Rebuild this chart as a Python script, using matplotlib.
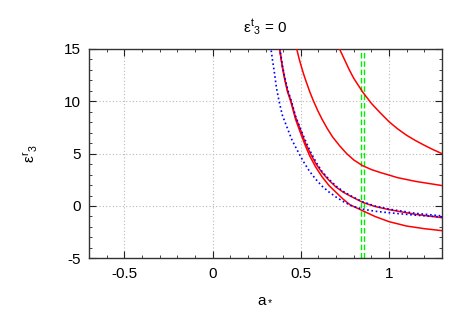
import numpy as np
import matplotlib
matplotlib.use("Agg")
import matplotlib.pyplot as plt
from matplotlib.ticker import MultipleLocator

# values
red1_x = [0.70, 0.725, 0.75, 0.775, 0.80, 0.825, 0.85, 0.875, 0.90, 0.95, 1.00, 1.05, 1.10, 1.15, 1.20, 1.25, 1.30]
red1_y = [15.8, 14.8, 13.9, 13.0, 12.2, 11.55, 10.9, 10.35, 9.8, 8.9, 8.05, 7.35, 6.75, 6.25, 5.8, 5.38, 5.0]

red2_x = [0.465, 0.477, 0.49, 0.50, 0.515, 0.53, 0.55, 0.57, 0.595, 0.62, 0.65, 0.68, 0.72, 0.76, 0.80, 0.85, 0.90, 0.95, 1.05, 1.15, 1.30]
red2_y = [15.8, 15.0, 14.1, 13.5, 12.65, 11.9, 10.95, 10.1, 9.15, 8.3, 7.4, 6.6, 5.75, 5.0, 4.4, 3.85, 3.48, 3.2, 2.7, 2.35, 1.95]

red3_x = [0.37, 0.38, 0.395, 0.41, 0.425, 0.445, 0.47, 0.50, 0.525, 0.555, 0.585, 0.62, 0.66, 0.70, 0.74, 0.78, 0.85, 0.92, 1.00, 1.15, 1.30]
red3_y = [16.2, 15.0, 13.4, 12.1, 11.0, 10.0, 8.5, 7.2, 6.05, 5.0, 4.05, 3.2, 2.45, 1.8, 1.32, 0.95, 0.35, -0.05, -0.35, -0.8, -1.12]

red4_x = [0.37, 0.38, 0.395, 0.41, 0.425, 0.443, 0.47, 0.50, 0.525, 0.55, 0.585, 0.62, 0.66, 0.70, 0.74, 0.78, 0.85, 0.92, 1.00, 1.10, 1.20, 1.30]
red4_y = [16.2, 15.0, 13.3, 12.0, 10.9, 10.0, 8.3, 6.9, 5.8, 4.8, 3.7, 2.8, 1.95, 1.3, 0.65, 0.1, -0.45, -1.0, -1.5, -1.92, -2.17, -2.36]

blue1_x = [0.32, 0.331, 0.34, 0.35, 0.362, 0.377, 0.395, 0.42, 0.45, 0.49, 0.52, 0.55, 0.585, 0.62, 0.66, 0.70, 0.745, 0.79, 0.85, 0.92, 1.00, 1.15, 1.30]
blue1_y = [16.5, 15.0, 13.9, 12.8, 11.3, 10.0, 8.7, 7.6, 6.3, 5.0, 4.1, 3.3, 2.55, 1.9, 1.33, 0.85, 0.38, 0.0, -0.3, -0.5, -0.65, -0.88, -1.05]

blue2_x = [0.37, 0.382, 0.395, 0.41, 0.427, 0.447, 0.47, 0.50, 0.53, 0.56, 0.59, 0.62, 0.66, 0.70, 0.74, 0.78, 0.85, 0.92, 1.00, 1.15, 1.30]
blue2_y = [16.3, 15.0, 13.5, 12.2, 11.05, 10.0, 8.6, 7.3, 6.1, 5.0, 4.1, 3.3, 2.55, 1.9, 1.4, 1.0, 0.4, 0.0, -0.3, -0.7, -0.95]

green_x = [0.84, 0.86]

x_ticks = [-0.5, 0, 0.5, 1]
x_labels = ["-0.5", "0", "0.5", "1"]
y_ticks = [-5, 0, 5, 10, 15]
y_labels = ["-5", "0", "5", "10", "15"]

plt.rcParams['font.family'] = ['Liberation Sans', 'DejaVu Sans']
plt.rcParams['mathtext.fontset'] = 'custom'
plt.rcParams['mathtext.rm'] = 'Liberation Sans'
plt.rcParams['mathtext.it'] = 'Liberation Sans'
plt.rcParams['axes.unicode_minus'] = False

fig = plt.figure(figsize=(4.67, 3.27), dpi=100)
ax = fig.add_axes([89 / 467, 1 - 258.3 / 327, (442 - 89) / 467, (258.3 - 49) / 327])

for x in green_x:
    ax.axvline(x, color='#00ee00', lw=1.0, linestyle=(0, (4, 2)), zorder=2)

for xs, ys in [(red1_x, red1_y), (red2_x, red2_y), (red3_x, red3_y), (red4_x, red4_y)]:
    ax.plot(xs, ys, color='#ff0000', lw=1.1, zorder=3)

for xs, ys in [(blue1_x, blue1_y), (blue2_x, blue2_y)]:
    ax.plot(xs, ys, color='#0000ff', lw=1.2, linestyle=(0, (1, 1.6)), zorder=4)

ax.set_xlim(-0.7, 1.3)
ax.set_ylim(-5, 15)
ax.set_xticks(x_ticks)
ax.set_xticklabels(x_labels)
ax.set_yticks(y_ticks)
ax.set_yticklabels(y_labels)
ax.xaxis.set_minor_locator(MultipleLocator(0.1))
ax.yaxis.set_minor_locator(MultipleLocator(1))
ax.tick_params(which='both', direction='in', top=True, right=True, labelsize=11, colors='#222222')
ax.tick_params(which='major', length=5, pad=6)
ax.tick_params(which='minor', length=2.5)
for lab in ax.get_xticklabels() + ax.get_yticklabels():
    lab.set_color('black')
ax.grid(True, which='major', color='#b8b8b8', linestyle=(0, (1, 2)), lw=0.8)
for s in ax.spines.values():
    s.set_color('#333333')
    s.set_linewidth(1.0)

ax.set_title(r'$ε^{t}{}_{3}$ = 0', fontsize=11, pad=12)
ax.set_xlabel(r'$a_*$', fontsize=11, labelpad=8)
ax.set_ylabel(r'$ε^{r}{}_{3}$', fontsize=11, labelpad=17)

fig.savefig('out.png', dpi=100)
